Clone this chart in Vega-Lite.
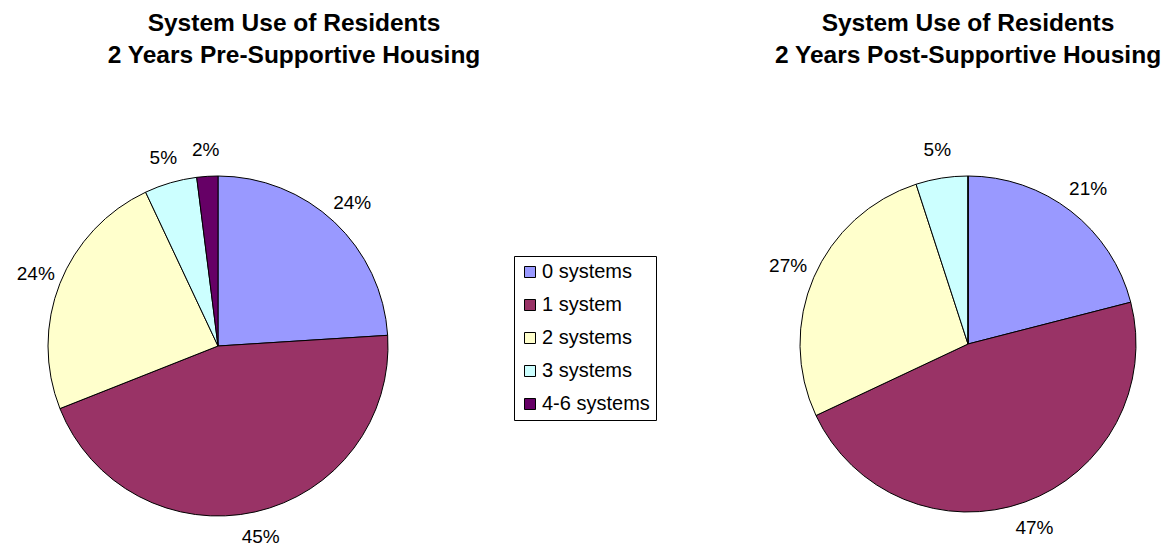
{
  "$schema": "https://vega.github.io/schema/vega-lite/v6.json",
  "background": "white",
  "padding": {"left": 0, "top": 10, "right": 0, "bottom": 0},
  "data": {"values": [
    {"period": "pre", "category": "0 systems", "idx": 0, "value": 24, "label": "24%"},
    {"period": "pre", "category": "1 system", "idx": 1, "value": 45, "label": "45%"},
    {"period": "pre", "category": "2 systems", "idx": 2, "value": 24, "label": "24%"},
    {"period": "pre", "category": "3 systems", "idx": 3, "value": 5, "label": "5%"},
    {"period": "pre", "category": "4-6 systems", "idx": 4, "value": 2, "label": "2%"},
    {"period": "post", "category": "0 systems", "idx": 0, "value": 21, "label": "21%"},
    {"period": "post", "category": "1 system", "idx": 1, "value": 47, "label": "47%"},
    {"period": "post", "category": "2 systems", "idx": 2, "value": 27, "label": "27%"},
    {"period": "post", "category": "3 systems", "idx": 3, "value": 5, "label": "5%"},
    {"period": "post", "category": "4-6 systems", "idx": 4, "value": 0, "label": "0%"}
  ]},
  "hconcat": [
    {
      "width": 436,
      "height": 340,
      "title": {"text": ["System Use of Residents", "2 Years Pre-Supportive Housing"], "dx": 76},
      "transform": [{"filter": "datum.period === 'pre'"}],
      "layer": [
        {
          "mark": {"type": "arc", "stroke": "black", "strokeWidth": 1},
          "encoding": {
            "theta": {"field": "value", "type": "quantitative", "stack": true},
            "order": {"field": "idx", "type": "quantitative"},
            "color": {
              "field": "category", "type": "nominal",
              "scale": {"domain": ["0 systems", "1 system", "2 systems", "3 systems", "4-6 systems"],
                        "range": ["#9999FF", "#993366", "#FFFFCC", "#CCFFFF", "#660066"]},
              "legend": {"orient": "none", "legendX": 514, "legendY": 80}
            }
          }
        },
        {
          "transform": [{"filter": "datum.value > 0"}],
          "mark": {"type": "text", "radius": 196, "fontSize": 19, "font": "Liberation Sans", "color": "black"},
          "encoding": {
            "theta": {"field": "value", "type": "quantitative", "stack": true},
            "order": {"field": "idx", "type": "quantitative"},
            "text": {"field": "label", "type": "nominal"}
          }
        }
      ]
    },
    {
      "width": 336,
      "height": 336,
      "title": {"text": ["System Use of Residents", "2 Years Post-Supportive Housing"]},
      "transform": [{"filter": "datum.period === 'post'"}],
      "layer": [
        {
          "mark": {"type": "arc", "stroke": "black", "strokeWidth": 1},
          "encoding": {
            "theta": {"field": "value", "type": "quantitative", "stack": true},
            "order": {"field": "idx", "type": "quantitative"},
            "color": {"field": "category", "type": "nominal"}
          }
        },
        {
          "transform": [{"filter": "datum.value > 0"}],
          "mark": {"type": "text", "radius": 196, "fontSize": 19, "font": "Liberation Sans", "color": "black"},
          "encoding": {
            "theta": {"field": "value", "type": "quantitative", "stack": true},
            "order": {"field": "idx", "type": "quantitative"},
            "text": {"field": "label", "type": "nominal"}
          }
        }
      ]
    }
  ],
  "spacing": 288,
  "config": {
    "view": {"stroke": null},
    "title": {"font": "Liberation Sans", "fontSize": 24.5, "fontWeight": "bold", "color": "black", "lineHeight": 32, "offset": 73, "anchor": "middle"},
    "legend": {
      "title": null, "symbolType": "square", "symbolSize": 121, "symbolStrokeColor": "black", "symbolStrokeWidth": 1,
      "labelFont": "Liberation Sans", "labelFontSize": 20, "labelColor": "black", "labelOffset": 2,
      "padding": 6, "rowPadding": 13, "strokeColor": "black", "fillColor": "white", "symbolOpacity": 1
    }
  }
}
